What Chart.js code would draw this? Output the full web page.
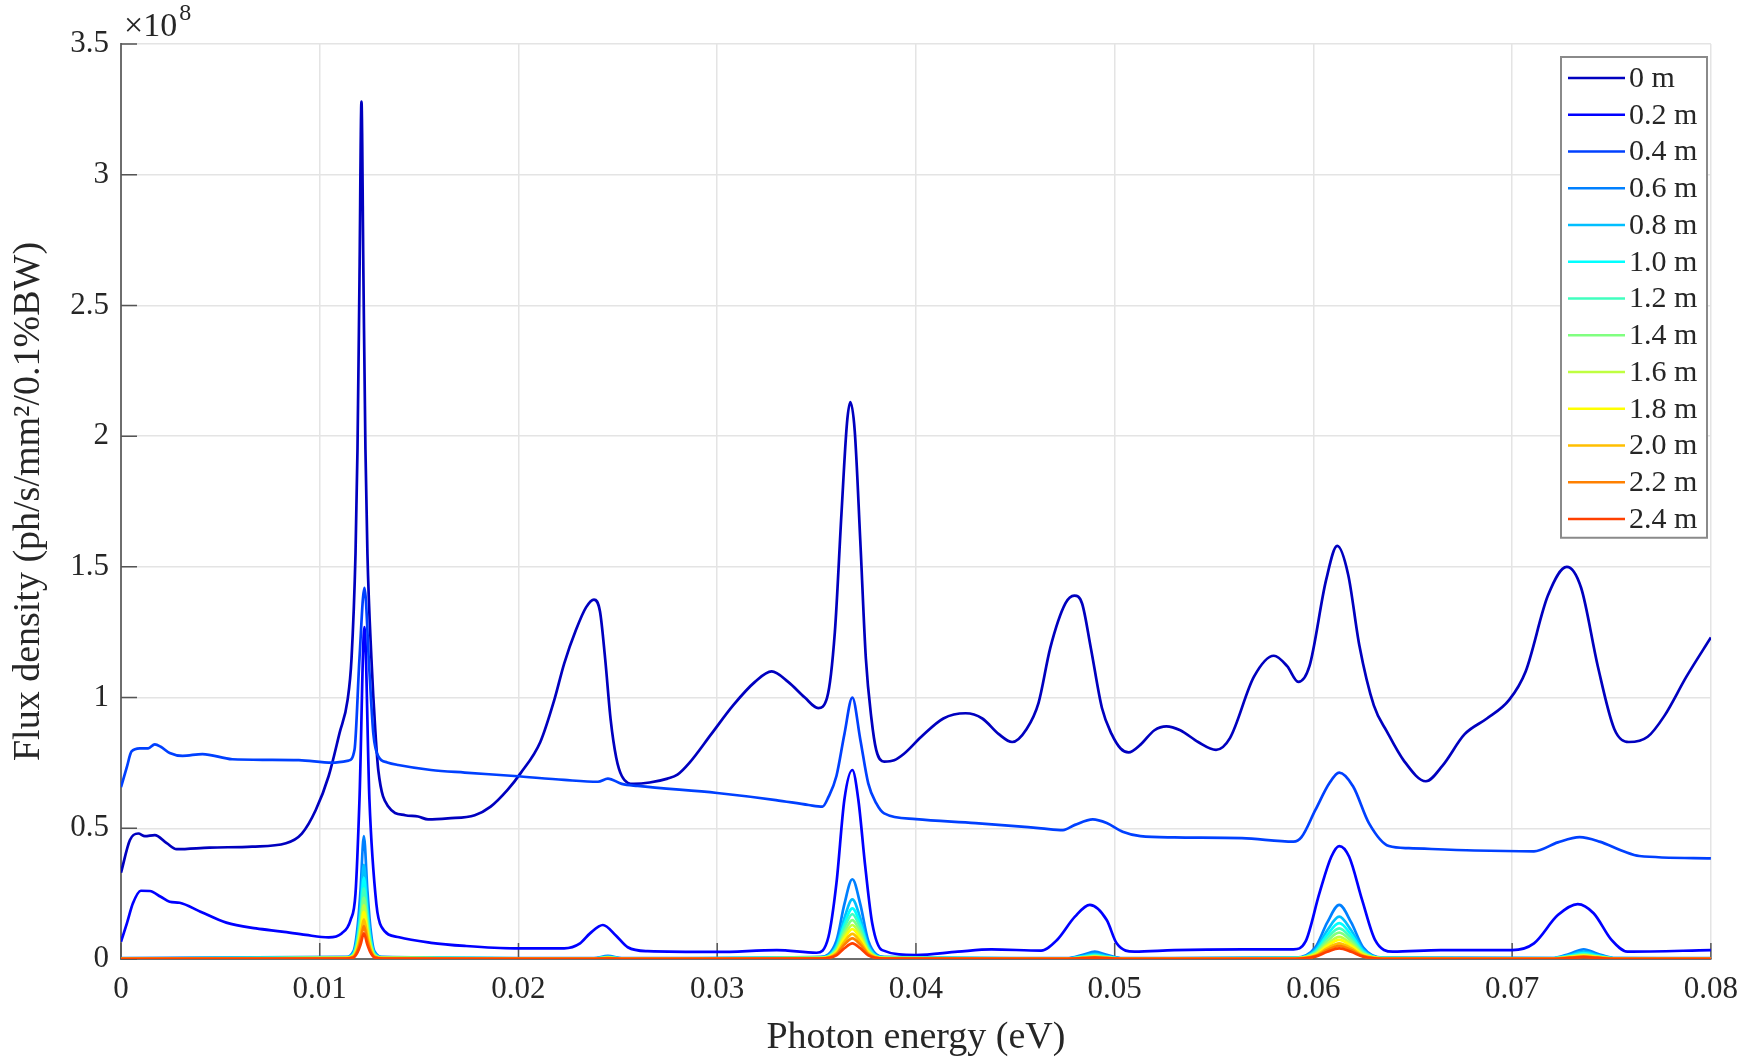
<!DOCTYPE html>
<html>
<head>
<meta charset="utf-8">
<script src="https://cdn.jsdelivr.net/npm/chart.js@4.4.1/dist/chart.umd.min.js"></script>
<style>
  html, body { margin: 0; padding: 0; background: #fff; }
</style>
</head>
<body>
<canvas id="fluxChart" width="1750" height="1057"></canvas>
<script>
// photon energy (eV) / flux density (x1e8 ph/s/mm^2/0.1%BW)
const energy0 = [
  0, 0.00045, 0.00087, 0.0012, 0.0017, 0.0023, 0.0028, 0.00445, 0.0066, 0.0083,
  0.0091, 0.0098, 0.01045, 0.011, 0.0114, 0.0116, 0.0118, 0.0119, 0.012, 0.0121,
  0.0122, 0.0123, 0.0124, 0.0126, 0.0128, 0.01295, 0.01345, 0.0143, 0.01495, 0.01545,
  0.01645, 0.0178, 0.0186, 0.01945, 0.0201, 0.0211, 0.0218, 0.0223, 0.0229, 0.0234,
  0.0238, 0.0241, 0.02436, 0.02464, 0.02492, 0.0252, 0.0258, 0.0266, 0.0275, 0.028,
  0.0286, 0.0297, 0.0308, 0.0319, 0.03274, 0.03357, 0.03441, 0.03508, 0.03553, 0.03592,
  0.03625, 0.03653, 0.0367, 0.03692, 0.0372, 0.03748, 0.03776, 0.038, 0.0384, 0.0389,
  0.0394, 0.04027, 0.04138, 0.0425, 0.04334, 0.04417, 0.04484, 0.04557, 0.04617, 0.04676,
  0.04752, 0.04797, 0.04836, 0.0488, 0.04936, 0.04985, 0.0503, 0.0507, 0.0513, 0.052,
  0.0526, 0.0533, 0.0542, 0.0551, 0.0558, 0.05701, 0.05801, 0.05868, 0.05924, 0.0598,
  0.06064, 0.0612, 0.06175, 0.06231, 0.06304, 0.0637, 0.06454, 0.06566, 0.0665, 0.06761,
  0.06873, 0.06984, 0.07068, 0.0718, 0.07275, 0.07347, 0.07431, 0.07514, 0.07587, 0.07682,
  0.07766, 0.07877, 0.08];
const flux0 = [
  0.33, 0.455, 0.48, 0.47, 0.474, 0.443, 0.42, 0.426, 0.43, 0.443,
  0.48, 0.57, 0.70, 0.865, 0.99, 1.15, 1.55, 1.95, 2.6, 3.28,
  2.6, 1.95, 1.55, 1.15, 0.87, 0.72, 0.583, 0.55, 0.545, 0.534,
  0.538, 0.55, 0.583, 0.647, 0.71, 0.83, 0.99, 1.13, 1.26, 1.345,
  1.375, 1.33, 1.15, 0.915, 0.77, 0.70, 0.67, 0.675, 0.69, 0.705,
  0.75, 0.86, 0.97, 1.06, 1.10, 1.06, 1.0, 0.96, 1.0, 1.25,
  1.7, 2.05, 2.13, 2.02, 1.6, 1.15, 0.92, 0.80, 0.755, 0.76,
  0.785, 0.85, 0.92, 0.94, 0.92, 0.86, 0.83, 0.88, 0.98, 1.19,
  1.36, 1.39, 1.36, 1.19, 0.96, 0.86, 0.805, 0.79, 0.82, 0.875,
  0.89, 0.875, 0.83, 0.80, 0.845, 1.08, 1.16, 1.12, 1.06, 1.12,
  1.45, 1.58, 1.47, 1.2, 0.97, 0.87, 0.76, 0.68, 0.74, 0.86,
  0.92, 0.99, 1.10, 1.39, 1.50, 1.42, 1.12, 0.88, 0.83, 0.85,
  0.93, 1.08, 1.23];

const energy02 = [0, 0.0003, 0.0006, 0.001, 0.00145, 0.002, 0.00245, 0.00295, 0.004, 0.0053, 0.0068, 0.0081,
  0.0093, 0.01045, 0.0111, 0.01155, 0.0118, 0.012, 0.01225, 0.0125, 0.01285, 0.0131, 0.014, 0.0156, 0.0173,
  0.0198, 0.0223, 0.0231, 0.0236, 0.02425, 0.0249, 0.0255, 0.0265, 0.03, 0.033, 0.035, 0.0356, 0.036, 0.0364,
  0.0368, 0.0371, 0.03745, 0.0378, 0.0383, 0.04, 0.0421, 0.0438, 0.0463, 0.0471, 0.048, 0.04875, 0.0496,
  0.0501, 0.051, 0.053, 0.05645, 0.059, 0.0596, 0.0603, 0.0609, 0.0613, 0.0618, 0.06245, 0.0631, 0.064,
  0.0664, 0.07, 0.0711, 0.0723, 0.0733, 0.0741, 0.075, 0.0758, 0.08];
const flux02 = [0.066, 0.137, 0.213, 0.261, 0.26, 0.238, 0.219, 0.215, 0.181, 0.139, 0.117, 0.105,
  0.092, 0.083, 0.098, 0.149, 0.251, 0.61, 1.27, 0.61, 0.21, 0.124, 0.083, 0.062, 0.05,
  0.041, 0.041, 0.06, 0.098, 0.13, 0.09, 0.045, 0.03, 0.027, 0.034, 0.024, 0.085, 0.29, 0.61,
  0.723, 0.61, 0.353, 0.137, 0.034, 0.015, 0.028, 0.037, 0.032, 0.073, 0.162, 0.207, 0.149,
  0.06, 0.028, 0.034, 0.037, 0.037, 0.066, 0.251, 0.391, 0.432, 0.391, 0.226, 0.073, 0.028,
  0.034, 0.034, 0.06, 0.168, 0.21, 0.175, 0.073, 0.028, 0.034];

const energy04 = [0, 0.0003, 0.00053, 0.00095, 0.00137, 0.0017, 0.002, 0.00245, 0.0031, 0.0041, 0.0056, 0.0073,
  0.00895, 0.0106, 0.01145, 0.01175, 0.012, 0.01225, 0.0125, 0.0127, 0.01295, 0.0134, 0.01395, 0.0156, 0.0173,
  0.0198, 0.0223, 0.024, 0.0245, 0.0252, 0.026, 0.03, 0.03295, 0.0346, 0.0353, 0.0356, 0.036, 0.0364, 0.0368,
  0.0372, 0.0376, 0.038, 0.0384, 0.04, 0.043, 0.0463, 0.0474, 0.048, 0.0489, 0.0496, 0.0504, 0.0513, 0.053,
  0.0564, 0.059, 0.0594, 0.0601, 0.0608, 0.0613, 0.062, 0.0628, 0.0638, 0.0648, 0.0681, 0.0711, 0.0723,
  0.0734, 0.0744, 0.0756, 0.0764, 0.08];
const flux04 = [0.657, 0.736, 0.794, 0.806, 0.806, 0.821, 0.812, 0.788, 0.777, 0.784, 0.764, 0.762,
  0.761, 0.751, 0.759, 0.80, 1.15, 1.42, 1.1, 0.86, 0.775, 0.752, 0.742, 0.723, 0.713,
  0.70, 0.685, 0.678, 0.69, 0.67, 0.662, 0.635, 0.608, 0.589, 0.583, 0.62, 0.70, 0.86, 1.0,
  0.84, 0.672, 0.596, 0.557, 0.535, 0.52, 0.50, 0.493, 0.513, 0.534, 0.52, 0.487, 0.47, 0.465,
  0.462, 0.449, 0.466, 0.57, 0.672, 0.713, 0.66, 0.519, 0.432, 0.424, 0.415, 0.412, 0.446,
  0.466, 0.449, 0.412, 0.394, 0.385];

// the longer distances share one energy grid
const energyLow = [0, 0.0113, 0.0117, 0.0119, 0.01205, 0.01222, 0.0124, 0.01255, 0.01275, 0.0132,
  0.0238, 0.0245, 0.0252, 0.0352, 0.036, 0.0364, 0.0368, 0.0372, 0.0376, 0.0384,
  0.0476, 0.0484, 0.049, 0.0496, 0.0504, 0.0591, 0.0601, 0.0607, 0.0613, 0.0619, 0.0625, 0.0635,
  0.072, 0.0729, 0.0736, 0.0743, 0.0752, 0.08];
const flux06 = [0.003, 0.008, 0.03, 0.12, 0.26, 0.47, 0.26, 0.12, 0.03, 0.008, 0.003, 0.012, 0.003,
  0.008, 0.07, 0.21, 0.305, 0.21, 0.07, 0.008, 0.003, 0.016, 0.028, 0.016, 0.003,
  0.005, 0.045, 0.14, 0.207, 0.14, 0.045, 0.005, 0.003, 0.02, 0.037, 0.02, 0.003, 0.003];
const flux08 = [0.002, 0.006, 0.023, 0.09, 0.2, 0.36, 0.2, 0.09, 0.023, 0.006, 0.002, 0.009, 0.002,
  0.006, 0.052, 0.157, 0.228, 0.157, 0.052, 0.006, 0.002, 0.011, 0.02, 0.011, 0.002,
  0.004, 0.036, 0.11, 0.162, 0.11, 0.036, 0.004, 0.003, 0.015, 0.028, 0.015, 0.003, 0.002];
const flux10 = [0.002, 0.005, 0.02, 0.078, 0.17, 0.31, 0.17, 0.078, 0.02, 0.005, 0.002, 0.007, 0.002,
  0.005, 0.045, 0.134, 0.194, 0.134, 0.045, 0.005, 0.002, 0.009, 0.016, 0.009, 0.002,
  0.003, 0.03, 0.093, 0.137, 0.093, 0.03, 0.003, 0.002, 0.013, 0.023, 0.013, 0.002, 0.002];
const flux12 = [0.002, 0.005, 0.018, 0.068, 0.15, 0.27, 0.15, 0.068, 0.018, 0.005, 0.002, 0.006, 0.002,
  0.004, 0.04, 0.119, 0.172, 0.119, 0.04, 0.004, 0.002, 0.007, 0.013, 0.007, 0.002,
  0.003, 0.026, 0.08, 0.117, 0.08, 0.026, 0.003, 0.002, 0.01, 0.019, 0.01, 0.002, 0.002];
const flux14 = [0.001, 0.004, 0.015, 0.059, 0.13, 0.235, 0.13, 0.059, 0.015, 0.004, 0.001, 0.005, 0.001,
  0.004, 0.034, 0.103, 0.149, 0.103, 0.034, 0.004, 0.001, 0.006, 0.011, 0.006, 0.001,
  0.003, 0.022, 0.069, 0.101, 0.069, 0.022, 0.003, 0.002, 0.009, 0.016, 0.009, 0.002, 0.001];
const flux16 = [0.001, 0.003, 0.013, 0.051, 0.113, 0.205, 0.113, 0.051, 0.013, 0.003, 0.001, 0.004, 0.001,
  0.003, 0.03, 0.09, 0.13, 0.09, 0.03, 0.003, 0.001, 0.005, 0.009, 0.005, 0.001,
  0.002, 0.019, 0.058, 0.085, 0.058, 0.019, 0.002, 0.001, 0.008, 0.014, 0.008, 0.001, 0.001];
const flux18 = [0.001, 0.003, 0.012, 0.045, 0.099, 0.18, 0.099, 0.045, 0.012, 0.003, 0.001, 0.004, 0.001,
  0.003, 0.026, 0.079, 0.114, 0.079, 0.026, 0.003, 0.001, 0.004, 0.008, 0.004, 0.001,
  0.002, 0.016, 0.05, 0.073, 0.05, 0.016, 0.002, 0.001, 0.007, 0.012, 0.007, 0.001, 0.001];
const flux20 = [0.001, 0.003, 0.01, 0.038, 0.084, 0.152, 0.084, 0.038, 0.01, 0.003, 0.001, 0.003, 0.001,
  0.002, 0.022, 0.066, 0.096, 0.066, 0.022, 0.002, 0.001, 0.004, 0.007, 0.004, 0.001,
  0.002, 0.013, 0.041, 0.06, 0.041, 0.013, 0.002, 0.001, 0.006, 0.01, 0.006, 0.001, 0.001];
const flux22 = [0.001, 0.002, 0.008, 0.032, 0.069, 0.126, 0.069, 0.032, 0.008, 0.002, 0.001, 0.003, 0.001,
  0.002, 0.018, 0.055, 0.079, 0.055, 0.018, 0.002, 0.001, 0.003, 0.006, 0.003, 0.001,
  0.001, 0.011, 0.034, 0.05, 0.034, 0.011, 0.001, 0.001, 0.005, 0.009, 0.005, 0.001, 0.001];
const flux24 = [0.001, 0.002, 0.006, 0.025, 0.054, 0.098, 0.054, 0.025, 0.006, 0.002, 0.001, 0.002, 0.001,
  0.002, 0.014, 0.041, 0.06, 0.041, 0.014, 0.002, 0.001, 0.003, 0.005, 0.003, 0.001,
  0.001, 0.009, 0.028, 0.041, 0.028, 0.009, 0.001, 0.001, 0.004, 0.007, 0.004, 0.001, 0.001];

const seriesLabels = ['0 m', '0.2 m', '0.4 m', '0.6 m', '0.8 m', '1.0 m', '1.2 m', '1.4 m', '1.6 m',
  '1.8 m', '2.0 m', '2.2 m', '2.4 m'];
const xTickLabels = ['0', '0.01', '0.02', '0.03', '0.04', '0.05', '0.06', '0.07', '0.08'];
const yTickLabels = ['0', '0.5', '1', '1.5', '2', '2.5', '3', '3.5'];

const energies = [energy0, energy02, energy04, energyLow, energyLow, energyLow, energyLow, energyLow,
  energyLow, energyLow, energyLow, energyLow, energyLow];
const fluxes = [flux0, flux02, flux04, flux06, flux08, flux10, flux12, flux14, flux16, flux18, flux20,
  flux22, flux24];

// jet-like colour order
const lineColors = ['rgb(0,0,191)', 'rgb(0,0,255)', 'rgb(0,64,255)', 'rgb(0,128,255)', 'rgb(0,191,255)',
  'rgb(0,255,255)', 'rgb(64,255,191)', 'rgb(128,255,128)', 'rgb(191,255,64)', 'rgb(255,255,0)',
  'rgb(255,191,0)', 'rgb(255,128,0)', 'rgb(255,64,0)'];

const serif = "'Liberation Serif', 'Times New Roman', serif";
const textColor = '#262626';

const datasets = seriesLabels.map((label, i) => ({
  label: label,
  data: energies[i].map((e, k) => ({ x: e, y: fluxes[i][k] })),
  borderColor: lineColors[i],
  borderWidth: 2.7,
  pointRadius: 0,
  fill: false,
  cubicInterpolationMode: 'monotone',
  order: seriesLabels.length - 1 - i // later distances drawn on top
}));

// tick marks pointing into the plot, like the original axes
const innerTicks = {
  id: 'innerTicks',
  beforeDatasetsDraw(chart) {
    const { ctx, chartArea: a, scales: { x, y } } = chart;
    ctx.save();
    ctx.strokeStyle = '#555';
    ctx.lineWidth = 1.5;
    ctx.beginPath();
    x.ticks.forEach(t => {
      const px = x.getPixelForValue(t.value);
      ctx.moveTo(px, a.bottom);
      ctx.lineTo(px, a.bottom - 16);
    });
    y.ticks.forEach(t => {
      const py = y.getPixelForValue(t.value);
      ctx.moveTo(a.left, py);
      ctx.lineTo(a.left + 16, py);
    });
    ctx.stroke();
    ctx.restore();
  },
  afterDraw(chart) {
    // exponent label above the y axis
    const { ctx, chartArea: a } = chart;
    ctx.save();
    ctx.fillStyle = textColor;
    ctx.textBaseline = 'alphabetic';
    ctx.font = '34px ' + serif;
    ctx.fillText('\u00d710', a.left + 3, 36);
    const w = ctx.measureText('\u00d710').width;
    ctx.font = '24px ' + serif;
    ctx.fillText('8', a.left + 5 + w, 20);
    ctx.restore();
  }
};

// boxed legend in the top right corner
const boxLegend = {
  id: 'boxLegend',
  afterDatasetsDraw(chart) {
    const { ctx } = chart;
    const left = 1561, top = 57, width = 146, rowH = 36.75;
    const height = rowH * seriesLabels.length + 3;
    ctx.save();
    ctx.fillStyle = '#fff';
    ctx.fillRect(left, top, width, height);
    ctx.strokeStyle = '#8a8a8a';
    ctx.lineWidth = 2;
    ctx.strokeRect(left, top, width, height);
    ctx.font = '30px ' + serif;
    ctx.textBaseline = 'middle';
    ctx.textAlign = 'left';
    chart.data.datasets.forEach((ds, i) => {
      const cy = top + 21 + i * rowH;
      ctx.strokeStyle = ds.borderColor;
      ctx.lineWidth = 2.7;
      ctx.beginPath();
      ctx.moveTo(left + 7, cy);
      ctx.lineTo(left + 64, cy);
      ctx.stroke();
      ctx.fillStyle = textColor;
      ctx.fillText(ds.label, left + 68, cy + 1);
    });
    ctx.restore();
  }
};

new Chart(document.getElementById('fluxChart'), {
  type: 'line',
  data: { datasets: datasets },
  plugins: [innerTicks, boxLegend],
  options: {
    responsive: false,
    animation: false,
    devicePixelRatio: 1,
    layout: { padding: { left: 0, top: 44, right: 29, bottom: 0 } },
    plugins: {
      legend: { display: false },
      tooltip: { enabled: false }
    },
    scales: {
      x: {
        type: 'linear',
        min: 0,
        max: 0.08,
        afterFit: scale => { scale.height = 98; },
        grid: { color: '#e4e4e4', lineWidth: 1.5, drawTicks: false },
        border: { color: '#6e6e6e', width: 2 },
        ticks: {
          stepSize: 0.01,
          autoSkip: false,
          maxRotation: 0,
          padding: 12,
          color: textColor,
          font: { family: serif, size: 31 },
          callback: (v, i) => xTickLabels[i]
        },
        title: {
          display: true,
          text: 'Photon energy (eV)',
          color: textColor,
          font: { family: serif, size: 38, lineHeight: 1.0 },
          padding: { top: 0, bottom: 0 }
        }
      },
      y: {
        type: 'linear',
        min: 0,
        max: 3.5,
        afterFit: scale => { scale.width = 121; },
        grid: { color: '#e4e4e4', lineWidth: 1.5, drawTicks: false },
        border: { color: '#6e6e6e', width: 2 },
        ticks: {
          stepSize: 0.5,
          padding: 12,
          color: textColor,
          font: { family: serif, size: 31 },
          callback: (v, i) => yTickLabels[i]
        },
        title: {
          display: true,
          text: 'Flux density (ph/s/mm\u00b2/0.1%BW)',
          color: textColor,
          font: { family: serif, size: 38 },
          padding: { top: 6, bottom: 0 }
        }
      }
    }
  }
});
</script>
</body>
</html>
